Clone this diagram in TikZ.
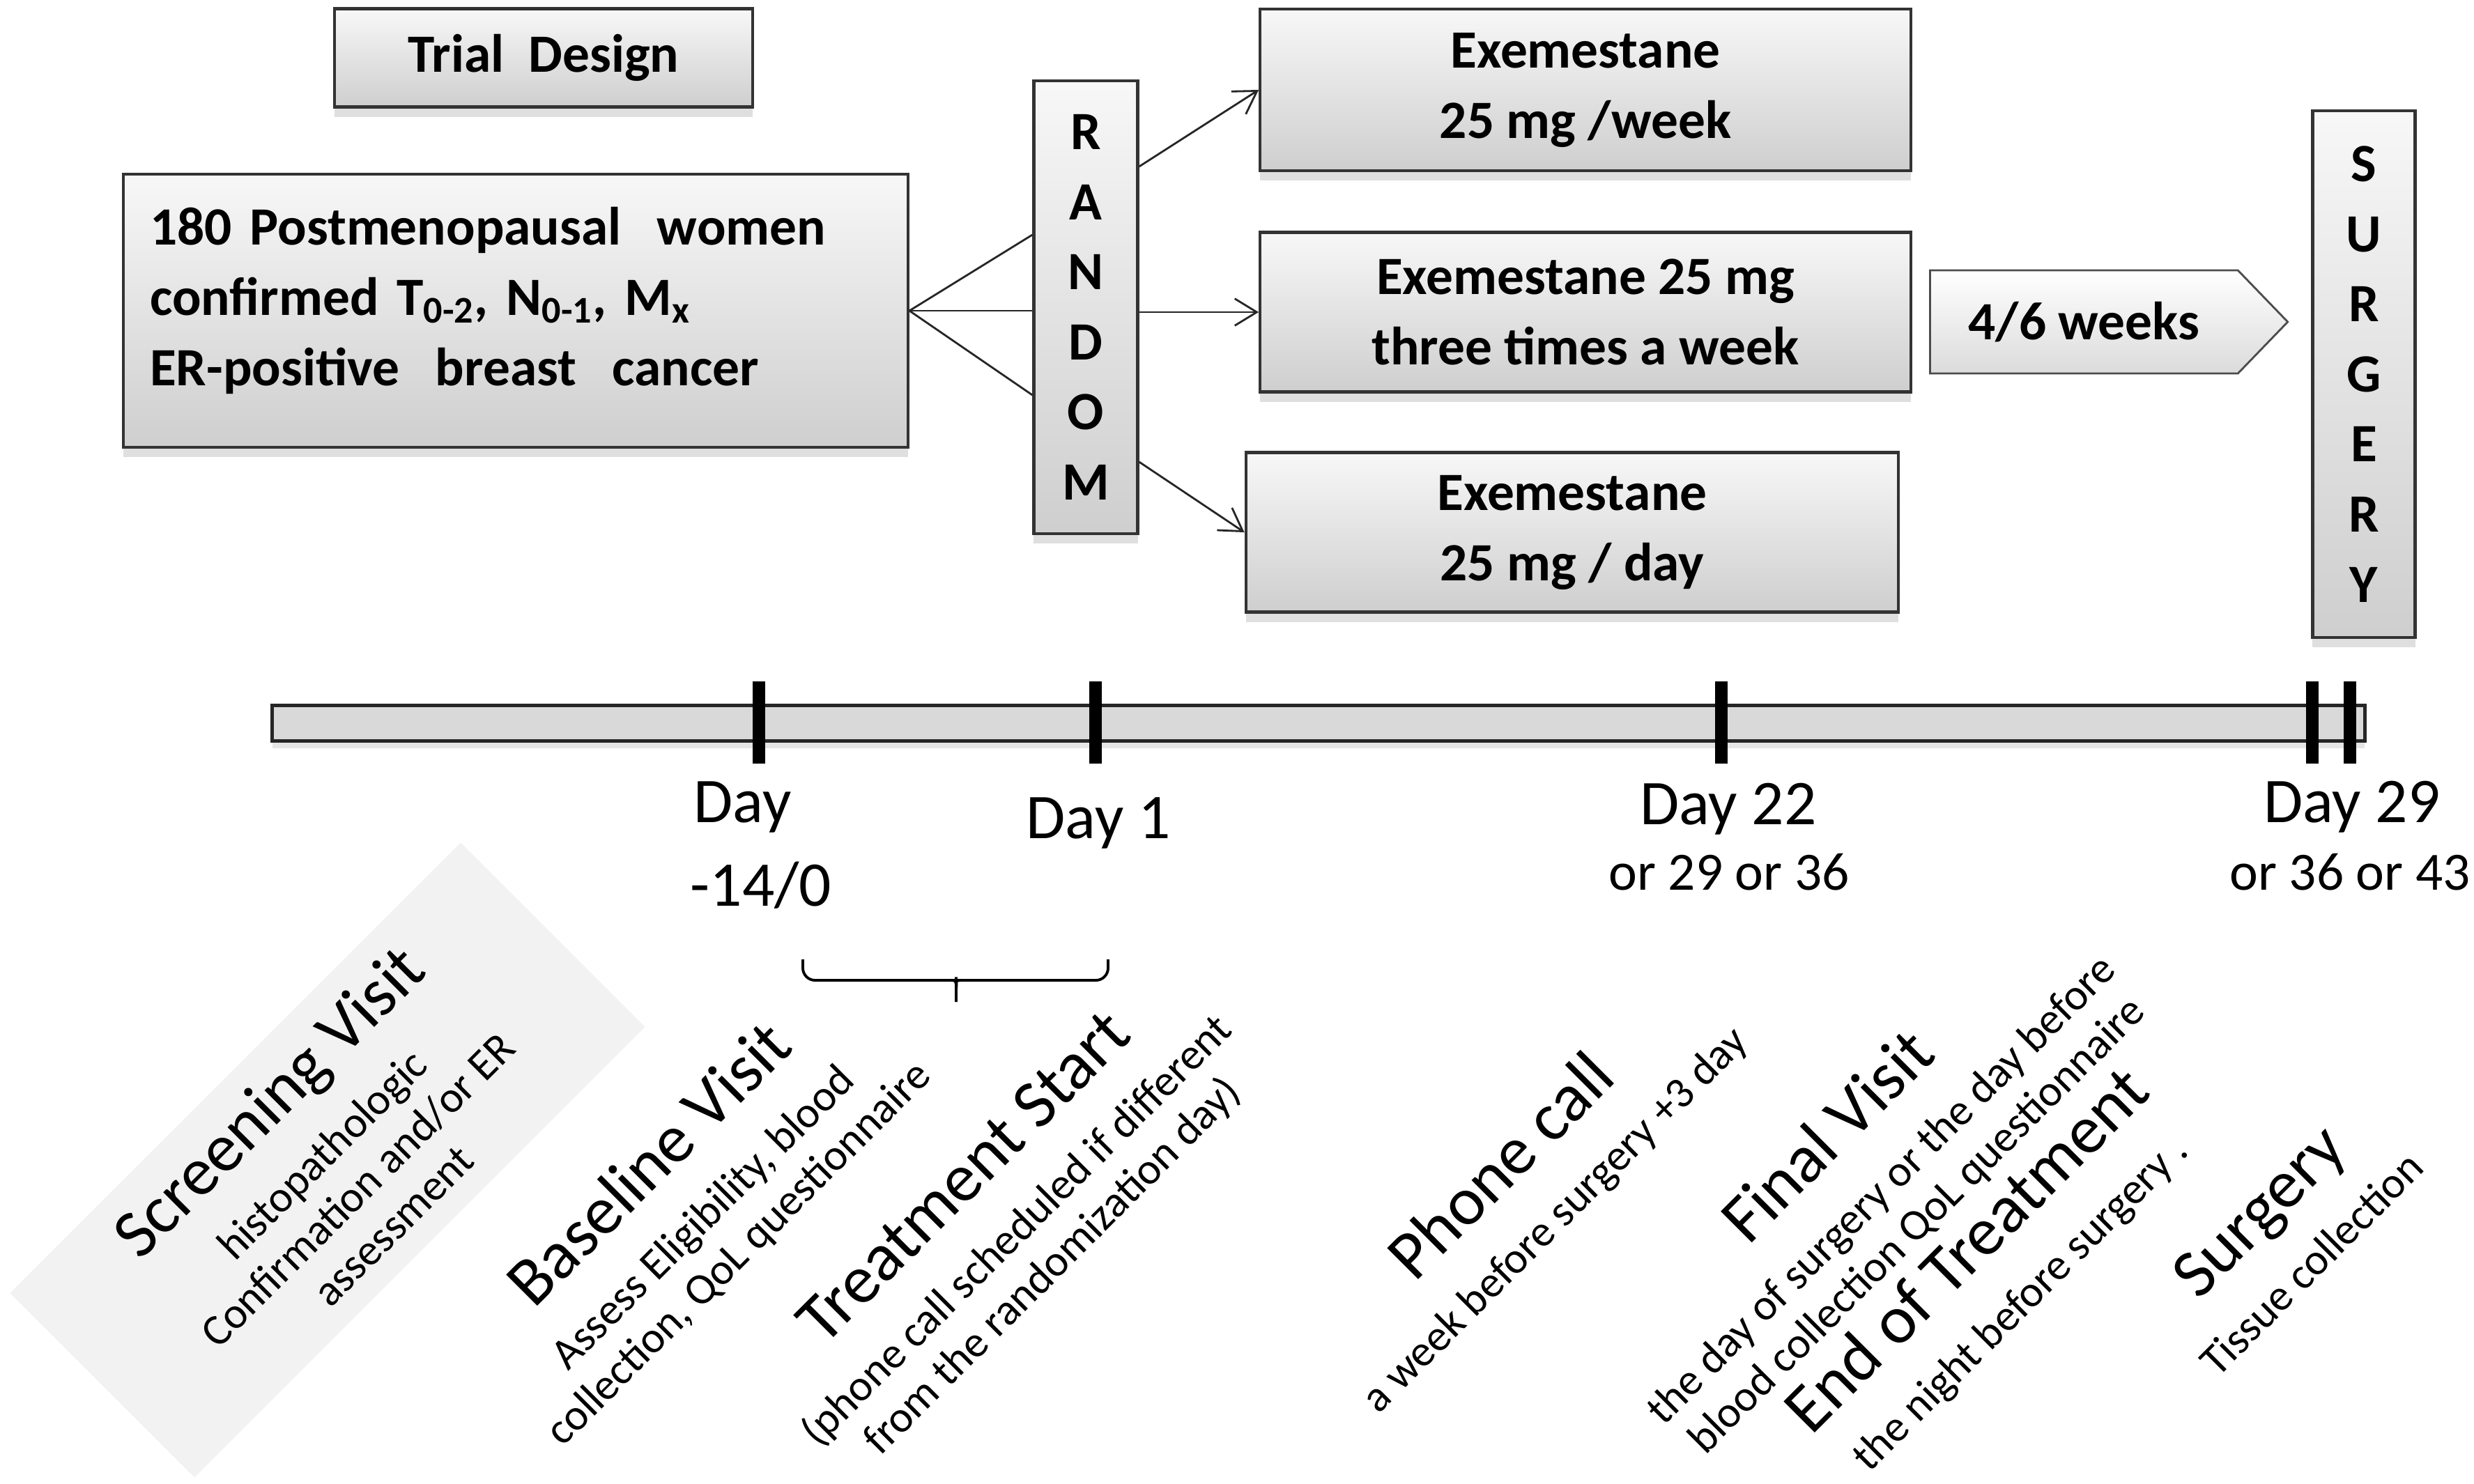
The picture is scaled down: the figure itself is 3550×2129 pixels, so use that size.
\documentclass[tikz,border=0pt]{standalone}
\usepackage{fontspec}
\setmainfont{Carlito}
\usetikzlibrary{arrows.meta,shapes.symbols,shadows,calc,positioning}

\tikzset{
  greybox/.style={draw=black!80, line width=1.2pt, top color=gray!6, bottom color=gray!38,
    drop shadow={shadow xshift=0pt, shadow yshift=-4pt, opacity=.25},
    font=\bfseries\fontsize{22}{28.7}\selectfont, align=center, inner sep=0pt},
  letterbox/.style={greybox, font=\bfseries\fontsize{22}{28.6}\selectfont},
  fanline/.style={line width=0.8pt, black!85},
  fanarrow/.style={fanline, -{Straight Barb[length=9pt,width=11pt]}},
  weekbox/.style={shape=signal, signal to=east, signal pointer angle=92, draw=black!70,
    line width=0.8pt, top color=white, bottom color=gray!28, inner sep=0pt,
    minimum width=5.13cm, minimum height=1.48cm, font=\bfseries\fontsize{22}{26}\selectfont},
  timebar/.style={draw=black!85, line width=1.3pt, top color=gray!30, middle color=gray!4,
    bottom color=gray!30, minimum width=30.01cm, minimum height=0.51cm, inner sep=0pt,
    drop shadow={shadow xshift=0pt, shadow yshift=-3pt, opacity=.2}},
  daytick/.style={line width=5pt},
  daylabel/.style={font=\fontsize{26}{32}\selectfont, anchor=base, inner sep=0pt},
  orlabel/.style={font=\fontsize{22}{26}\selectfont, anchor=base, inner sep=0pt},
  phase/.style={rotate=45, align=center, font=\fontsize{18}{20.5}\selectfont, inner sep=0pt},
}
\newcommand{\phasetitle}[1]{{\fontsize{28}{30}\selectfont #1}\\[7pt]}

\begin{document}
\begin{tikzpicture}[x=0.01cm, y=-0.01cm]
  \useasboundingbox (0,0) rectangle (3550,2129);

  % Top row
  \node[greybox, minimum width=6cm, minimum height=1.41cm] (trial) at (780,83) {Trial~~Design};
  \node[greybox, minimum width=11.25cm, minimum height=3.92cm, text width=10.49cm,
        align=left] (patient) at (740,446)
    {180 Postmenopausal~~women\\
     confirmed T\textsubscript{0-2}, N\textsubscript{0-1}, M\textsubscript{x}\\
     ER-positive~~breast~~cancer\\[-17pt]\mbox{}};
  \node[letterbox, minimum width=1.49cm, minimum height=6.5cm] (random) at (1558,441)
    {R\\A\\N\\D\\O\\M};

  % Arms
  \node[greybox, minimum width=9.33cm, minimum height=2.32cm] (exe1) at (2275,129)
    {Exemestane\\25 mg /week};
  \node[greybox, minimum width=9.33cm, minimum height=2.29cm] (exe2) at (2275,448)
    {Exemestane 25 mg\\three times a week};
  \node[greybox, minimum width=9.36cm, minimum height=2.29cm] (exe3) at (2256,764)
    {Exemestane\\25 mg / day};
  \node[weekbox, anchor=west] (weeks) at (2768,462) {4/6 weeks};
  \node[letterbox, minimum width=1.47cm, minimum height=7.56cm] (surg) at (3392,537)
    {S\\U\\R\\G\\E\\R\\Y};

  % Randomisation fan
  \coordinate (rlu) at ($(random.west)+(0,-104)$);
  \coordinate (rld) at ($(random.west)+(0,126)$);
  \coordinate (rru) at ($(random.east)+(0,-202)$);
  \coordinate (rrd) at ($(random.east)+(0,222)$);
  \draw[fanline] (patient.east) -- (rlu);
  \draw[fanline] (patient.east) -- (patient.east -| random.west);
  \draw[fanline] (patient.east) -- (rld);
  \draw[fanarrow] (rru) -- (exe1.west);
  \draw[fanarrow] (random.east |- exe2.west) -- (exe2.west);
  \draw[fanarrow] (rrd) -- (exe3.west);

  % Timeline
  \node[timebar] (bar) at (1892,1038) {};
  \foreach \x in {1089,1572,2470,3318,3372}
    \draw[daytick] (\x,978) -- (\x,1096);

  \node[daylabel, anchor=base west] (d0a) at (995,1180) {Day};
  \node[daylabel, anchor=base west] (d0b) at (990,1300) {-14/0};
  \node[daylabel] (d1) at (1576,1203) {Day 1};
  \node[daylabel] (d22) at (2480,1183) {Day 22};
  \node[orlabel] (d22b) at (2481,1277) {or 29 or 36};
  \node[daylabel] (d29) at (3375,1180) {Day 29};
  \node[orlabel] (d29b) at (3372,1277) {or 36 or 43};

  % Brace under Day -14/0 .. Day 1
  \draw[line width=1.1pt, rounded corners=5pt] (1152,1377) |- (1362,1407)
    to[out=0,in=90] (1372,1420) -- (1372,1438);
  \draw[line width=1.1pt, rounded corners=5pt] (1590,1377) |- (1382,1407)
    to[out=180,in=90] (1372,1420);

  % Visits
  \node[phase, fill=gray!10, minimum width=9.14cm, minimum height=3.74cm] (screen) at (470,1665)
    {\phasetitle{Screening Visit}histopathologic\\Confirmation and/or ER\\assessment};
  \node[phase] (base) at (993,1732)
    {\phasetitle{Baseline Visit}Assess Eligibility, blood\\collection, QoL questionnaire};
  \node[phase] (start) at (1445,1752)
    {\phasetitle{Treatment Start}(phone call scheduled if different\\from the randomization day)};
  \node[phase] (phone) at (2190,1710)
    {\phasetitle{Phone call}a week before surgery +3 day};
  \node[phase] (final) at (2684,1692)
    {\phasetitle{Final Visit}the day of surgery or the day before\\blood collection QoL questionnaire};
  \node[phase] (eot) at (2858,1830)
    {\phasetitle{End of Treatment}the night before surgery .};
  \node[phase] (tissue) at (3275,1772)
    {\phasetitle{Surgery}Tissue collection};
\end{tikzpicture}
\end{document}
